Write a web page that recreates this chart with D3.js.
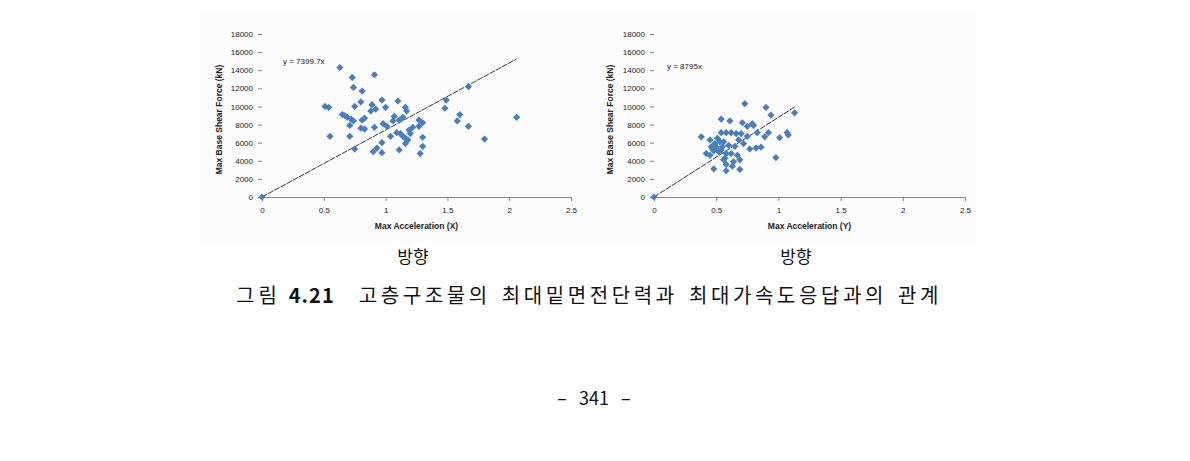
<!DOCTYPE html>
<html><head><meta charset="utf-8">
<script src="https://cdn.jsdelivr.net/npm/d3@7"></script>
<style>
html,body{margin:0;padding:0;background:#fff;}
svg{display:block;}
</style></head>
<body>
<svg id="chart" width="1190" height="461"></svg>
<script>
// ---- data ----
const xTicks = [0, 0.5, 1, 1.5, 2, 2.5];
const xTickLabels = ["0", "0.5", "1", "1.5", "2", "2.5"];
const yTicks = [0, 2000, 4000, 6000, 8000, 10000, 12000, 14000, 16000, 18000];

const leftX = [0, 0.63, 0.73, 0.91, 0.74, 0.81, 0.51, 0.54, 0.75, 0.80, 0.89, 0.97, 1.00, 0.88, 0.92,
  1.10, 1.16, 1.17, 0.65, 0.67, 0.69, 0.72, 0.74, 0.71, 0.81, 0.83, 0.80, 0.83, 0.91, 0.98, 1.01,
  1.07, 1.11, 1.14, 1.06, 0.55, 0.71, 0.75, 0.90, 0.93, 0.97, 0.97, 1.04, 1.09, 1.12, 1.14, 1.16,
  1.18, 1.20, 1.22, 1.19, 1.27, 1.27, 1.30, 1.30, 1.16, 1.11, 1.30, 1.28, 1.67, 1.49, 1.48, 1.60,
  1.58, 1.67, 1.80, 2.06];
const leftY = [0, 14300, 13200, 13500, 12100, 11700, 10000, 9900, 10000, 10500, 10200, 10700, 9900, 9500, 9700,
  10600, 9900, 9500, 9100, 9000, 8800, 8600, 8400, 7900, 8500, 8700, 7600, 7500, 7700, 8100, 7800,
  8900, 8500, 8800, 8400, 6700, 6700, 5300, 5000, 5400, 4900, 6000, 6700, 7100, 7000, 6700, 6500,
  6300, 7000, 7700, 7400, 7800, 8500, 8200, 6600, 5900, 5200, 5600, 4800, 12200, 10700, 9800, 9100,
  8400, 7800, 6400, 8800];

const rightX = [0, 0.73, 0.90, 0.94, 1.13, 0.54, 0.61, 0.71, 0.75, 0.79, 0.80, 0.38, 0.54, 0.58, 0.62,
  0.66, 0.70, 0.75, 0.83, 0.89, 0.92, 1.01, 1.08, 1.07, 0.45, 0.49, 0.53, 0.56, 0.46, 0.50, 0.55,
  0.48, 0.52, 0.54, 0.42, 0.45, 0.58, 0.68, 0.65, 0.62, 0.67, 0.69, 0.64, 0.56, 0.58, 0.48, 0.58,
  0.63, 0.69, 0.77, 0.82, 0.86, 0.98, 0.60, 0.51, 0.47, 0.57, 0.72];
const rightY = [0, 10300, 9900, 9050, 9300, 8600, 8400, 8200, 7800, 8100, 7900, 6650, 7100, 7100, 7100,
  7000, 7000, 6700, 7100, 6650, 7100, 6550, 6850, 7100, 6300, 5900, 6100, 6100, 5550, 5500, 5550,
  5100, 5000, 5200, 4800, 4600, 4800, 6300, 5600, 4800, 4600, 4100, 3900, 4100, 3600, 3100, 2900,
  3400, 3050, 5300, 5400, 5500, 4350, 5700, 6500, 5300, 4300, 5900];

const leftSlope = 7399.7;
const rightSlope = 8795;
const leftEq = "y = 7399.7x";
const rightEq = "y = 8795x";
const yTitle = "Max Base Shear Force (kN)";
const leftXTitle = "Max Acceleration (X)";
const rightXTitle = "Max Acceleration (Y)";
const subCaption = "방향";
const figNo = "4.21";
const captionPre = "그림";
const captionText = "고층구조물의 최대밑면전단력과 최대가속도응답과의 관계";
const pageNo = "341";

// ---- drawing ----
const svg = d3.select("#chart");
const tickFont = "'Liberation Sans', Arial, sans-serif";
const krFont = "'Noto Sans CJK KR', sans-serif";

function panel(opt) {
  const g = svg.append("g");
  g.append("rect").attr("x", opt.bg[0]).attr("y", opt.bg[1]).attr("width", opt.bg[2]).attr("height", opt.bg[3])
    .attr("fill", "#fbfbfb");
  const x = d3.scaleLinear().domain([0, 2.5]).range([opt.x0, opt.x1]);
  const y = d3.scaleLinear().domain([0, 18000]).range([197, 34]);

  // x axis
  const xa = g.append("g").attr("transform", `translate(0,${y(0)})`)
    .call(d3.axisBottom(x).tickValues(xTicks).tickFormat((d, i) => xTickLabels[i]).tickSize(4).tickSizeOuter(0).tickPadding(6));
  xa.select(".domain").attr("stroke", "#868686");
  xa.selectAll(".tick line").attr("stroke", "#868686");
  xa.selectAll("text").attr("font-family", tickFont).attr("font-size", 8).attr("fill", "#222");

  // y axis (tick marks only)
  const ya = g.append("g").attr("transform", `translate(${x(0)},0)`)
    .call(d3.axisLeft(y).tickValues(yTicks).tickFormat(d3.format("d")).tickSize(4).tickSizeOuter(0).tickPadding(5));
  ya.select(".domain").remove();
  ya.selectAll(".tick line").attr("stroke", "#868686");
  ya.selectAll("text").attr("font-family", tickFont).attr("font-size", 8).attr("fill", "#222");

  // trendline
  const xmax = d3.max(opt.xs);
  g.append("line").attr("x1", x(0)).attr("y1", y(0)).attr("x2", x(xmax)).attr("y2", y(opt.slope * xmax))
    .attr("stroke", "#222").attr("stroke-width", 0.9).attr("stroke-dasharray", "6,1");

  // points
  const sym = d3.symbol().type(d3.symbolSquare).size(26);
  g.selectAll("path.pt").data(opt.xs.map((d, i) => [d, opt.ys[i]])).join("path")
    .attr("class", "pt")
    .attr("d", sym)
    .attr("transform", d => `translate(${x(d[0])},${y(d[1])}) rotate(45)`)
    .attr("fill", "#4a7ebb");

  // equation
  g.append("text").attr("x", opt.eq[0]).attr("y", opt.eq[1]).text(opt.eqText)
    .attr("font-family", tickFont).attr("font-size", 8).attr("fill", "#222");

  // axis titles
  g.append("text").attr("transform", `translate(${opt.yTitleX},${(y(0) + y(18000)) / 2 + 4}) rotate(-90)`)
    .attr("text-anchor", "middle").text(yTitle)
    .attr("font-family", tickFont).attr("font-size", 8.5).attr("font-weight", "bold").attr("fill", "#222");
  g.append("text").attr("x", (opt.x0 + opt.x1) / 2).attr("y", 229).attr("text-anchor", "middle").text(opt.xTitle)
    .attr("font-family", tickFont).attr("font-size", 8.5).attr("font-weight", "bold").attr("fill", "#222");

  // sub caption
  svg.append("text").attr("x", opt.capX).attr("y", 263).attr("text-anchor", "middle").text(subCaption)
    .attr("font-family", krFont).attr("font-size", 17).attr("fill", "#111");
}

panel({bg: [200, 14, 393, 229], x0: 262, x1: 571, xs: leftX, ys: leftY, slope: leftSlope,
  eq: [283, 64], eqText: leftEq, yTitleX: 222, xTitle: leftXTitle, capX: 413});
panel({bg: [593, 14, 383, 229], x0: 654, x1: 965, xs: rightX, ys: rightY, slope: rightSlope,
  eq: [667, 69], eqText: rightEq, yTitleX: 613, xTitle: rightXTitle, capX: 796});

// figure caption
const cap = svg.append("text").attr("x", 236).attr("y", 303)
  .attr("font-family", krFont).attr("font-size", 20).attr("fill", "#111");
cap.append("tspan").text(captionPre).attr("letter-spacing", 4);
cap.append("tspan").attr("dx", 8).text(figNo).attr("font-weight", "bold").attr("letter-spacing", 1);
cap.append("tspan").attr("dx", 24).text(captionText).attr("letter-spacing", 3.6).attr("word-spacing", 3);

// page number
const pg = svg.append("text").attr("x", 594).attr("y", 405).attr("text-anchor", "middle")
  .attr("font-family", krFont).attr("font-size", 18).attr("fill", "#111");
pg.append("tspan").text("–");
pg.append("tspan").attr("dx", 12).text(pageNo);
pg.append("tspan").attr("dx", 12).text("–");
</script>
</body></html>
